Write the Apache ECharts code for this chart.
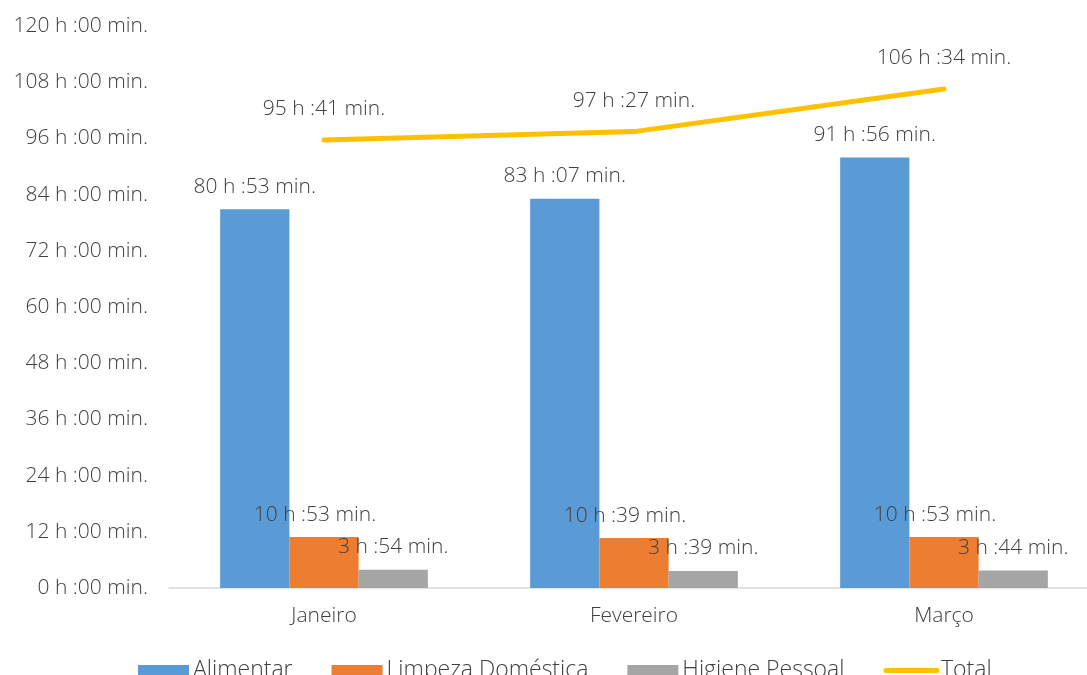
<!DOCTYPE html>
<html>
<head>
<meta charset="utf-8">
<script src="https://cdn.jsdelivr.net/npm/echarts@6/dist/echarts.min.js"></script>
<style>
  html, body { margin: 0; padding: 0; background: #fff; }
  #chart { width: 1087px; height: 675px; }
</style>
</head>
<body>
<div id="chart"></div>
<script>
// Monthly hours, stored in minutes
const months = ['Janeiro', 'Fevereiro', 'Março'];
const alimentar = [4853, 4987, 5516];
const limpeza = [653, 639, 653];
const higiene = [234, 219, 224];
const total = [5741, 5847, 6394];

const seriesNames = ['Alimentar', 'Limpeza Doméstica', 'Higiene Pessoal', 'Total'];

const FONT = 'Open Sans';
const SIZE = 21;
const TEXT = '#404040';

function fmt(mins) {
  const h = Math.floor(mins / 60);
  const m = Math.round(mins - h * 60);
  return h + ' h :' + String(m).padStart(2, '0') + ' min.';
}

const chart = echarts.init(document.getElementById('chart'), null, { renderer: 'canvas' });

const textBase = { color: TEXT, fontFamily: FONT, fontSize: SIZE, fontWeight: 300 };

const barLabel = Object.assign({
  show: true,
  position: 'top',
  distance: 12,
  formatter: p => fmt(p.value)
}, textBase);

chart.setOption({
  animation: false,
  textStyle: { fontFamily: FONT, color: TEXT },
  grid: { left: 169, width: 930, top: 26, bottom: 87, outerBoundsMode: 'none' },
  legend: {
    data: [
      { name: seriesNames[0], icon: 'rect' },
      { name: seriesNames[1], icon: 'rect' },
      { name: seriesNames[2], icon: 'rect' },
      { name: seriesNames[3], itemStyle: { opacity: 0 }, lineStyle: { width: 5, cap: 'round' } }
    ],
    left: 138,
    top: 659,
    padding: 0,
    itemWidth: 51,
    itemHeight: 11,
    itemGap: 39,
    textStyle: Object.assign({}, textBase, { fontSize: 23, padding: [0, 0, 0, -1] })
  },
  xAxis: {
    type: 'category',
    data: months,
    axisLine: { lineStyle: { color: '#d9d9d9', width: 1.5 } },
    axisTick: { show: false },
    axisLabel: Object.assign({ margin: 18 }, textBase)
  },
  yAxis: {
    type: 'value',
    min: 0,
    max: 7200,
    interval: 720,
    splitLine: { show: false },
    axisLine: { show: false },
    axisTick: { show: false },
    axisLabel: Object.assign({ margin: 21, formatter: v => fmt(v) }, textBase)
  },
  series: [
    {
      name: seriesNames[0],
      type: 'bar',
      data: alimentar,
      barGap: '0%',
      barCategoryGap: '33%',
      itemStyle: { color: '#5B9BD5' },
      label: barLabel
    },
    {
      name: seriesNames[1],
      type: 'bar',
      data: limpeza,
      itemStyle: { color: '#ED7D31' },
      label: Object.assign({}, barLabel, { offset: [-9, 0] })
    },
    {
      name: seriesNames[2],
      type: 'bar',
      data: higiene,
      itemStyle: { color: '#A5A5A5' },
      label: barLabel
    },
    {
      name: seriesNames[3],
      type: 'line',
      data: total,
      symbol: 'circle',
      symbolSize: 2,
      showSymbol: true,
      lineStyle: { color: '#FFC000', width: 5, cap: 'round' },
      itemStyle: { color: '#FFC000' },
      label: Object.assign({
        show: true,
        position: 'top',
        distance: 19,
        formatter: p => fmt(p.value)
      }, textBase),
      z: 5
    }
  ]
});
</script>
</body>
</html>
